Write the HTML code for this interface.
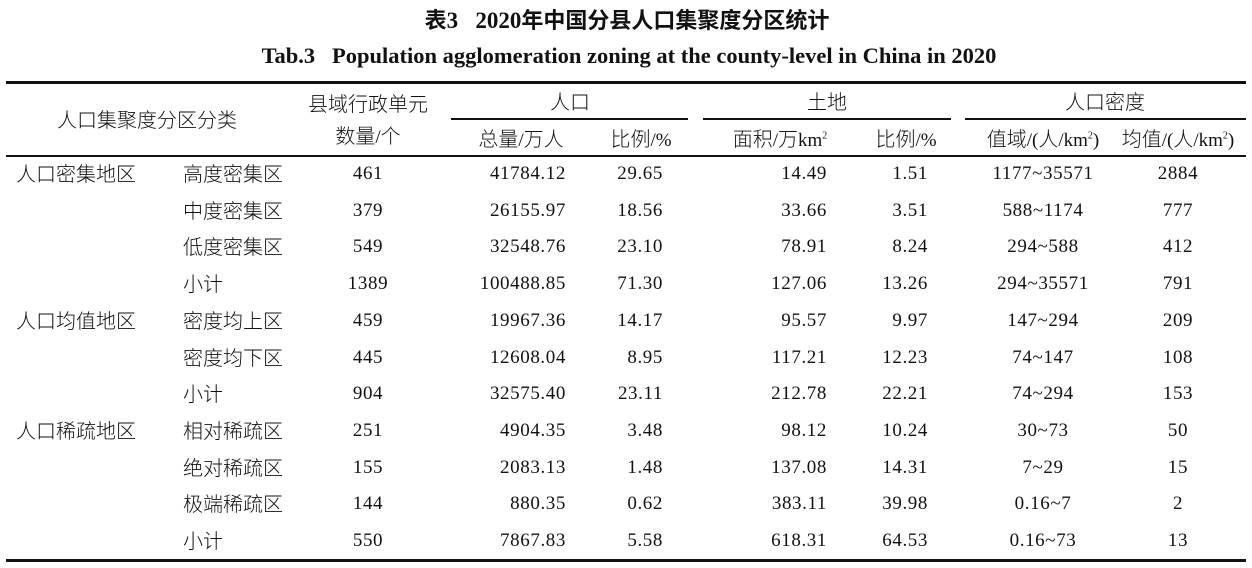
<!DOCTYPE html>
<html><head><meta charset="utf-8"><style>
html,body{margin:0;padding:0;background:#fff;}
body{width:1252px;height:568px;position:relative;overflow:hidden;font-family:"Liberation Serif","Noto Serif CJK SC","Noto Sans CJK SC",serif;color:#111;}
.t{position:absolute;white-space:nowrap;font-size:19px;line-height:22px;}
.n{letter-spacing:0.6px;}
.c{transform:translateX(-50%);}
.r{transform:translateX(-100%);}
.line{position:absolute;background:#111;}
.cjk{font-family:"Noto Sans CJK SC",sans-serif;font-weight:300;font-size:20px;}
sup{font-size:10px;line-height:0;}
</style></head><body>
<div class="t c" style="left:627px;top:8px;font-size:23px;font-weight:bold;"><span class="cjk" style="font-weight:bold;font-size:22px">表</span>3&nbsp;&nbsp; 2020<span class="cjk" style="font-weight:bold;font-size:22px">年中国分县人口集聚度分区统计</span></div>
<div class="t c" style="left:629px;top:45px;font-size:22.5px;font-weight:bold;">Tab.3&nbsp;&nbsp; Population agglomeration zoning at the county-level in China in 2020</div>

<div class="line" style="left:6px;top:81px;width:1240px;height:3px"></div>
<div class="line" style="left:451px;top:118px;width:237px;height:2px"></div>
<div class="line" style="left:703px;top:118px;width:248px;height:2px"></div>
<div class="line" style="left:965px;top:118px;width:281px;height:2px"></div>
<div class="line" style="left:6px;top:155px;width:1240px;height:2px"></div>
<div class="line" style="left:6px;top:559px;width:1240px;height:3px"></div>

<div class="t c cjk" style="left:147px;top:108px">人口集聚度分区分类</div>
<div class="t c cjk" style="left:368px;top:92px">县域行政单元</div>
<div class="t c" style="left:368px;top:124px"><span class="cjk">数量</span>/<span class="cjk">个</span></div>
<div class="t c cjk" style="left:570px;top:90px">人口</div>
<div class="t c cjk" style="left:827px;top:90px">土地</div>
<div class="t c cjk" style="left:1105px;top:90px">人口密度</div>
<div class="t c" style="left:521px;top:127px"><span class="cjk">总量</span>/<span class="cjk">万人</span></div>
<div class="t c" style="left:641px;top:127px"><span class="cjk">比例</span>/%</div>
<div class="t c" style="left:780px;top:127px"><span class="cjk">面积</span>/<span class="cjk">万</span>km<sup>2</sup></div>
<div class="t c" style="left:906px;top:127px"><span class="cjk">比例</span>/%</div>
<div class="t c" style="left:1043px;top:127px"><span class="cjk">值域</span>/(<span class="cjk">人</span>/km<sup>2</sup>)</div>
<div class="t c" style="left:1178px;top:127px"><span class="cjk">均值</span>/(<span class="cjk">人</span>/km<sup>2</sup>)</div>

<div id="rows"></div>
<script>
var d=[
["人口密集地区","高度密集区","461","41784.12","29.65","14.49","1.51","1177~35571","2884"],
["","中度密集区","379","26155.97","18.56","33.66","3.51","588~1174","777"],
["","低度密集区","549","32548.76","23.10","78.91","8.24","294~588","412"],
["","小计","1389","100488.85","71.30","127.06","13.26","294~35571","791"],
["人口均值地区","密度均上区","459","19967.36","14.17","95.57","9.97","147~294","209"],
["","密度均下区","445","12608.04","8.95","117.21","12.23","74~147","108"],
["","小计","904","32575.40","23.11","212.78","22.21","74~294","153"],
["人口稀疏地区","相对稀疏区","251","4904.35","3.48","98.12","10.24","30~73","50"],
["","绝对稀疏区","155","2083.13","1.48","137.08","14.31","7~29","15"],
["","极端稀疏区","144","880.35","0.62","383.11","39.98","0.16~7","2"],
["","小计","550","7867.83","5.58","618.31","64.53","0.16~73","13"]];
var h="";
for(var i=0;i<d.length;i++){var y=163+i*36.7;var r=d[i];
h+='<div class="t cjk" style="left:16px;top:'+(y-1)+'px">'+r[0]+'</div>';
h+='<div class="t cjk" style="left:183px;top:'+(y-1)+'px">'+r[1]+'</div>';
h+='<div class="t c n" style="left:368px;top:'+y+'px">'+r[2]+'</div>';
h+='<div class="t r n" style="left:566px;top:'+y+'px">'+r[3]+'</div>';
h+='<div class="t r n" style="left:663px;top:'+y+'px">'+r[4]+'</div>';
h+='<div class="t r n" style="left:827px;top:'+y+'px">'+r[5]+'</div>';
h+='<div class="t r n" style="left:928px;top:'+y+'px">'+r[6]+'</div>';
h+='<div class="t c n" style="left:1043px;top:'+y+'px">'+r[7]+'</div>';
h+='<div class="t c n" style="left:1178px;top:'+y+'px">'+r[8]+'</div>';}
document.getElementById("rows").innerHTML=h;
</script>
</body></html>
